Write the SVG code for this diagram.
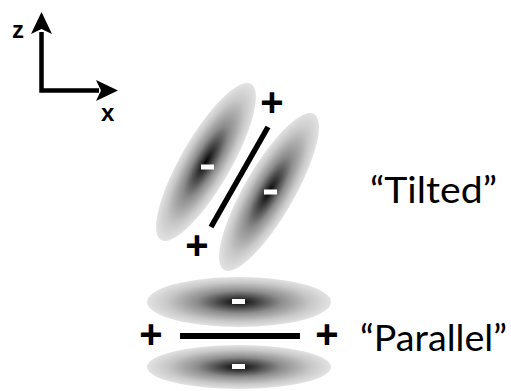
<svg xmlns="http://www.w3.org/2000/svg" width="511" height="391" viewBox="0 0 511 391">
  <defs>
    <radialGradient id="lobe" cx="0.5" cy="0.5" r="0.5">
      <stop offset="0" stop-color="#050505"/>
      <stop offset="0.15" stop-color="#333333"/>
      <stop offset="0.45" stop-color="#8c8c8c"/>
      <stop offset="0.78" stop-color="#c8c8c8"/>
      <stop offset="1" stop-color="#e2e2e2"/>
    </radialGradient>
    <style>
      .lobe { fill: url(#lobe); }
      .minus { fill: #ffffff; }
      .bond { stroke: #000; stroke-linecap: butt; fill: none; }
      .plus { font-family: "Liberation Sans", Arial, sans-serif; font-weight: bold; font-size: 40px; text-anchor: middle; fill: #000; }
      .axis { font-family: "Liberation Sans", Arial, sans-serif; font-weight: bold; font-size: 24px; fill: #000; }
      .label { font-family: Lato, "Open Sans", sans-serif; font-size: 36px; fill: #000; }
    </style>
  </defs>

  <g id="axes">
    <path d="M41.5,32 V90.5 H99" stroke="#000" stroke-width="4.5" fill="none"/>
    <polygon points="41.5,12 52,34 41.5,29 31,34" fill="#000"/>
    <polygon points="118,90.5 96,80 101,90.5 96,101" fill="#000"/>
    <text class="axis" x="12" y="38">z</text>
    <text class="axis" x="101" y="121">x</text>
  </g>

  <g id="tilted">
    <ellipse class="lobe" cx="0" cy="0" rx="25" ry="90" transform="translate(206,162) rotate(30)"/>
    <ellipse class="lobe" cx="0" cy="0" rx="25" ry="90" transform="translate(269,192) rotate(30)"/>
    <rect class="minus" x="201" y="164.5" width="13" height="5"/>
    <rect class="minus" x="264" y="189.5" width="13" height="5"/>
    <text class="plus" x="272" y="116">+</text>
    <text class="plus" x="197" y="259">+</text>
    <text class="label" x="370" y="203" textLength="127" lengthAdjust="spacingAndGlyphs">“Tilted”</text>
  </g>

  <g id="parallel">
    <ellipse class="lobe" cx="239" cy="302" rx="92" ry="25"/>
    <ellipse class="lobe" cx="239" cy="367" rx="92" ry="22"/>
    <rect class="minus" x="232" y="299" width="13" height="5"/>
    <rect class="minus" x="232" y="364" width="13" height="5"/>
    <text class="plus" x="151" y="348">+</text>
    <text class="plus" x="327" y="348">+</text>
    <text class="label" x="360" y="351" textLength="147" lengthAdjust="spacingAndGlyphs">“Parallel”</text>
  </g>

  <g id="connectors">
    <line class="bond" x1="268" y1="127" x2="211" y2="227" stroke-width="5.5"/>
    <line class="bond" x1="180" y1="336" x2="300" y2="336" stroke-width="6"/>
  </g>
</svg>
